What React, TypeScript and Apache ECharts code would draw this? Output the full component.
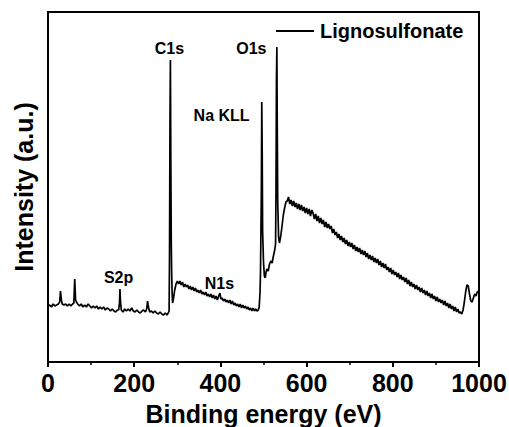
import React, { useEffect, useRef } from "react";
import * as echarts from "echarts";

const seriesName = "Lignosulfonate";
const xTitle = "Binding energy (eV)";
const yTitle = "Intensity (a.u.)";

// Binding energy (eV) and intensity (a.u.)
const energy = [
  0, 4, 8, 12, 16, 20, 24, 27, 29, 31, 33, 37, 41, 45, 49, 53, 57, 60, 62, 64, 66, 69, 73, 77, 81, 85, 89, 93, 97,
  101, 105, 109, 113, 117, 121, 125, 129, 133, 137, 141, 145, 149, 153, 157, 161, 164, 166, 167, 168, 170, 174, 178,
  182, 186, 190, 194, 198, 202, 206, 210, 214, 218, 222, 226, 229, 231, 233, 236, 240, 244, 248, 252, 256, 260, 264,
  268, 272, 276, 279, 281,
  282, 283, 284, 285, 286, 287, 288, 289, 291, 294, 297, 300, 303, 306, 309, 312, 315, 318, 321, 324, 327, 330, 333,
  336, 339, 342, 345, 348, 351, 354, 357, 360, 363, 366, 369, 372, 375, 378, 381, 384, 387, 390, 393, 396, 399, 401,
  404, 407, 410, 413, 416, 419, 422, 425, 428, 431, 434, 437, 440, 443, 446, 449, 452, 455, 458, 461, 464, 467, 470,
  473, 476, 479, 482, 485, 488, 490, 492, 493, 495, 496, 497, 498, 500, 502, 504, 506, 508, 511, 514, 517, 520, 523,
  526, 528, 529, 530, 531, 532, 533, 535, 537, 540, 543, 546, 549, 552,
  555, 558, 561, 564, 567, 570, 573, 576, 579, 582, 585, 588, 591, 594, 597, 600, 603, 606, 609, 612, 615, 618, 621,
  624, 627, 630, 633, 636, 639, 642, 645, 648, 651, 654, 657, 660, 663, 666, 669, 672, 675, 678, 681, 684, 687, 690,
  693, 696, 699, 702, 705, 708, 711, 714, 717, 720, 723, 726, 729, 732, 735, 738, 741, 744, 747, 750, 753, 756, 759,
  762, 765, 768, 771, 774, 777, 780, 783, 786, 789, 792, 795, 798, 801, 804, 807, 810, 813, 816, 819, 822, 825, 828,
  831, 834, 837, 840, 843, 846, 849, 852, 855, 858, 861, 864, 867, 870, 873, 876, 879, 882, 885, 888, 891, 894, 897,
  900, 903, 906, 909, 912, 915, 918, 921, 924, 927, 930, 933, 936, 939, 942, 945, 948, 951, 954, 957, 960, 963, 966,
  969, 972, 975, 978, 981, 984, 987, 990, 993, 996, 1000,
];

const intensity = [
  56, 57, 55, 58, 56, 57, 58, 60, 71, 62, 58, 57, 58, 56, 58, 56, 58, 59, 83, 62, 60, 58, 56, 58, 55, 57, 55, 58, 56,
  54, 56, 54, 56, 53, 55, 53, 55, 52, 54, 53, 51, 53, 51, 50, 52, 52, 60, 73, 62, 52, 50, 53,
  51, 53, 51, 54, 51, 50, 52, 50, 49, 51, 52, 50, 53, 61, 55, 50, 51, 49, 51, 49, 48, 50, 48,
  47, 49, 47, 49, 51,
  110, 240, 302, 200, 120, 87, 70, 59, 63, 72, 78, 81, 78, 81, 77, 80, 75, 78, 75, 77, 73, 76, 72,
  75, 71, 74, 70, 72, 69, 72, 68, 70, 67, 70, 66, 68, 65, 68, 64, 67, 63, 66, 62, 66, 69, 63,
  64, 61, 63, 60, 62, 59, 62, 58, 61, 57, 59, 56, 58, 55, 58, 54, 57, 54, 56, 53, 55, 52, 54,
  51, 54, 51, 53, 51, 52, 55, 70, 89, 170, 260, 210, 130, 100, 86, 84, 90, 93, 91, 98, 101, 99, 106,
  112, 118, 170, 280, 315, 230, 160, 125, 119, 126, 136, 147, 154, 160,
  161, 165, 158, 162, 156, 161, 155, 159, 153, 158, 152, 157, 151, 155, 149, 154, 148, 153, 146, 152, 149, 143, 148,
  141, 146, 139, 144, 138, 142, 135, 140, 134, 138, 133, 136, 129, 133, 127, 130, 124, 128, 122, 126, 120, 124, 118,
  122, 116, 120, 115, 119, 113, 117, 111, 115, 110, 114, 108, 112, 107, 111, 105, 109, 103, 107, 102, 106, 100, 104,
  99, 103, 97, 101, 95, 99, 94, 98, 92, 95, 90, 94, 88, 92, 87, 90, 85, 89, 83, 87, 82, 85, 80,
  84, 78, 82, 76, 80, 75, 78, 73, 77, 72, 75, 70, 74, 69, 72, 67, 71, 66, 69, 64, 68, 63, 66,
  61, 65, 60, 63, 59, 62, 57, 61, 56, 59, 54, 58, 53, 56, 51, 55, 50, 53, 49, 50, 48, 52, 60,
  70, 77, 76, 68, 61, 60, 64, 68, 66, 70, 71,
];

// Peak annotations: label, energy (eV), intensity where the label sits
const peakLabels = ["C1s", "O1s", "Na KLL", "S2p", "N1s"];
const peakLabelEnergy = [283, 473, 404, 165, 399];
const peakLabelIntensity = [313, 313, 246, 84, 78];

const xTicks = { min: 0, max: 1000, interval: 200 };
const yRange = { min: 0, max: 350 };

const FONT = "'Liberation Sans', Arial, Helvetica, sans-serif";

export default function App() {
  const ref = useRef<HTMLDivElement>(null);

  useEffect(() => {
    if (!ref.current) return;
    const chart = echarts.init(ref.current, undefined, { renderer: "svg" });
    const lineData = energy.map((e, i) => [e, intensity[i]]);
    const labelData = peakLabels.map((name, i) => ({
      name,
      value: [peakLabelEnergy[i], peakLabelIntensity[i]],
    }));

    chart.setOption({
      animation: false,
      backgroundColor: "#fff",
      grid: {
        left: 48,
        right: 30,
        top: 12,
        bottom: 65,
        containLabel: false,
        outerBoundsMode: "none",
        show: true,
        borderColor: "#000",
        borderWidth: 2,
        backgroundColor: "transparent",
      },
      legend: {
        data: [{ name: seriesName, icon: "rect" }],
        left: 276,
        top: 21,
        padding: 0,
        itemWidth: 38,
        itemHeight: 2,
        itemStyle: { color: "#000" },
        textStyle: { fontSize: 20, fontWeight: "bold", color: "#000", fontFamily: FONT, padding: [0, 0, 0, 1] },
      },
      xAxis: {
        type: "value",
        min: xTicks.min,
        max: xTicks.max,
        interval: xTicks.interval,
        name: xTitle,
        nameLocation: "middle",
        nameGap: 39,
        nameTextStyle: { fontSize: 25, fontWeight: "bold", color: "#000", fontFamily: FONT },
        axisLine: { show: true, lineStyle: { color: "#000", width: 2 } },
        axisTick: { show: true, inside: false, length: 5, lineStyle: { color: "#000", width: 2 } },
        minorTick: { show: true, splitNumber: 2, length: 3, lineStyle: { color: "#000", width: 1.5 } },
        axisLabel: {
          fontSize: 25,
          fontWeight: "bold",
          color: "#000",
          margin: 8,
          fontFamily: FONT,
          formatter: (v: number) => String(v),
        },
        splitLine: { show: false },
        minorSplitLine: { show: false },
      },
      yAxis: {
        type: "value",
        min: yRange.min,
        max: yRange.max,
        name: yTitle,
        nameLocation: "middle",
        nameGap: 12,
        nameTextStyle: { fontSize: 25, fontWeight: "bold", color: "#000", fontFamily: FONT },
        axisLine: { show: true, lineStyle: { color: "#000", width: 2 } },
        axisTick: { show: false },
        axisLabel: { show: false },
        splitLine: { show: false },
      },
      series: [
        {
          name: seriesName,
          type: "line",
          data: lineData,
          symbol: "none",
          showSymbol: false,
          lineStyle: { color: "#000", width: 1.7 },
          itemStyle: { color: "#000" },
          silent: true,
        },
        {
          name: "peaks",
          type: "scatter",
          data: labelData,
          symbolSize: 1,
          itemStyle: { color: "#fff", opacity: 0 },
          silent: true,
          label: {
            show: true,
            position: [0, 0],
            align: "center",
            verticalAlign: "middle",
            formatter: (p: any) => p.name,
            fontSize: 16,
            fontWeight: "bold",
            color: "#000",
            opacity: 1,
            textBorderWidth: 0,
            fontFamily: FONT,
          },
        },
      ],
    });
    return () => chart.dispose();
  }, []);

  return (
    <div
      ref={ref}
      style={{ position: "fixed", left: 0, top: 0, width: 509, height: 427, background: "#fff" }}
    />
  );
}
